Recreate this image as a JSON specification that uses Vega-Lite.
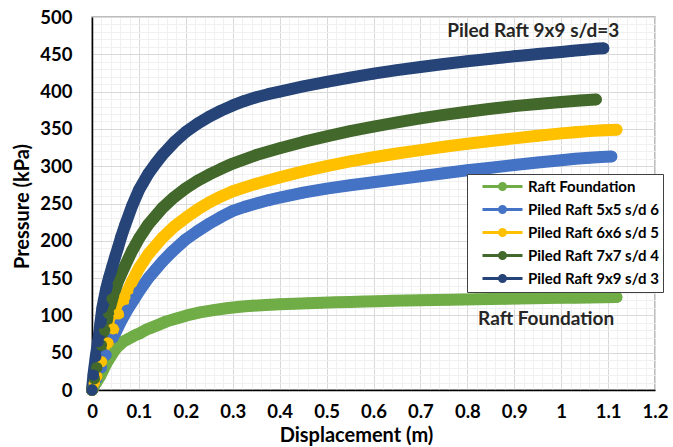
{
  "$schema": "https://vega.github.io/schema/vega-lite/v6.json",
  "width": 563,
  "height": 373,
  "autosize": {"type": "none"},
  "padding": {"left": 92, "top": 17, "right": 18, "bottom": 57},
  "background": "white",
  "config": {"font": "Lato", "view": {"stroke": "#a6a6a6", "strokeWidth": 1.5}},
  "resolve": {"axis": {"x": "independent", "y": "independent"}},
  "datasets": {"curves": [
    {"s": "Raft Foundation", "d": 0, "p": 0},
    {"s": "Raft Foundation", "d": 0.005, "p": 6},
    {"s": "Raft Foundation", "d": 0.01, "p": 11},
    {"s": "Raft Foundation", "d": 0.017, "p": 18},
    {"s": "Raft Foundation", "d": 0.024, "p": 27},
    {"s": "Raft Foundation", "d": 0.031, "p": 36},
    {"s": "Raft Foundation", "d": 0.04, "p": 45},
    {"s": "Raft Foundation", "d": 0.049, "p": 54},
    {"s": "Raft Foundation", "d": 0.058, "p": 60},
    {"s": "Raft Foundation", "d": 0.067, "p": 65},
    {"s": "Raft Foundation", "d": 0.076, "p": 68},
    {"s": "Raft Foundation", "d": 0.085, "p": 71},
    {"s": "Raft Foundation", "d": 0.094, "p": 74},
    {"s": "Raft Foundation", "d": 0.102, "p": 76},
    {"s": "Raft Foundation", "d": 0.113, "p": 80},
    {"s": "Raft Foundation", "d": 0.124, "p": 83},
    {"s": "Raft Foundation", "d": 0.14, "p": 87},
    {"s": "Raft Foundation", "d": 0.159, "p": 92},
    {"s": "Raft Foundation", "d": 0.18, "p": 96},
    {"s": "Raft Foundation", "d": 0.202, "p": 100},
    {"s": "Raft Foundation", "d": 0.23, "p": 104},
    {"s": "Raft Foundation", "d": 0.259, "p": 107},
    {"s": "Raft Foundation", "d": 0.287, "p": 109.5},
    {"s": "Raft Foundation", "d": 0.315, "p": 111.5},
    {"s": "Raft Foundation", "d": 0.34, "p": 112.8},
    {"s": "Raft Foundation", "d": 0.37, "p": 114},
    {"s": "Raft Foundation", "d": 0.4, "p": 115},
    {"s": "Raft Foundation", "d": 0.43, "p": 115.7},
    {"s": "Raft Foundation", "d": 0.46, "p": 116.4},
    {"s": "Raft Foundation", "d": 0.49, "p": 117},
    {"s": "Raft Foundation", "d": 0.52, "p": 117.5},
    {"s": "Raft Foundation", "d": 0.55, "p": 118},
    {"s": "Raft Foundation", "d": 0.58, "p": 118.5},
    {"s": "Raft Foundation", "d": 0.61, "p": 119},
    {"s": "Raft Foundation", "d": 0.64, "p": 119.5},
    {"s": "Raft Foundation", "d": 0.67, "p": 120},
    {"s": "Raft Foundation", "d": 0.7, "p": 120.3},
    {"s": "Raft Foundation", "d": 0.73, "p": 120.6},
    {"s": "Raft Foundation", "d": 0.76, "p": 121},
    {"s": "Raft Foundation", "d": 0.79, "p": 121.3},
    {"s": "Raft Foundation", "d": 0.82, "p": 121.7},
    {"s": "Raft Foundation", "d": 0.85, "p": 122},
    {"s": "Raft Foundation", "d": 0.88, "p": 122.3},
    {"s": "Raft Foundation", "d": 0.91, "p": 122.6},
    {"s": "Raft Foundation", "d": 0.94, "p": 123},
    {"s": "Raft Foundation", "d": 0.97, "p": 123.2},
    {"s": "Raft Foundation", "d": 1.0, "p": 123.5},
    {"s": "Raft Foundation", "d": 1.03, "p": 123.8},
    {"s": "Raft Foundation", "d": 1.06, "p": 124},
    {"s": "Raft Foundation", "d": 1.09, "p": 124.3},
    {"s": "Raft Foundation", "d": 1.118, "p": 124.5},

    {"s": "Piled Raft 5x5 s/d 6", "d": 0, "p": 0},
    {"s": "Piled Raft 5x5 s/d 6", "d": 0.005, "p": 8},
    {"s": "Piled Raft 5x5 s/d 6", "d": 0.01, "p": 15},
    {"s": "Piled Raft 5x5 s/d 6", "d": 0.02, "p": 30},
    {"s": "Piled Raft 5x5 s/d 6", "d": 0.03, "p": 47},
    {"s": "Piled Raft 5x5 s/d 6", "d": 0.045, "p": 70},
    {"s": "Piled Raft 5x5 s/d 6", "d": 0.06, "p": 90},
    {"s": "Piled Raft 5x5 s/d 6", "d": 0.075, "p": 107},
    {"s": "Piled Raft 5x5 s/d 6", "d": 0.09, "p": 122},
    {"s": "Piled Raft 5x5 s/d 6", "d": 0.1, "p": 132},
    {"s": "Piled Raft 5x5 s/d 6", "d": 0.12, "p": 150},
    {"s": "Piled Raft 5x5 s/d 6", "d": 0.135, "p": 161},
    {"s": "Piled Raft 5x5 s/d 6", "d": 0.15, "p": 172},
    {"s": "Piled Raft 5x5 s/d 6", "d": 0.17, "p": 185},
    {"s": "Piled Raft 5x5 s/d 6", "d": 0.2, "p": 202},
    {"s": "Piled Raft 5x5 s/d 6", "d": 0.225, "p": 213},
    {"s": "Piled Raft 5x5 s/d 6", "d": 0.25, "p": 223},
    {"s": "Piled Raft 5x5 s/d 6", "d": 0.275, "p": 232},
    {"s": "Piled Raft 5x5 s/d 6", "d": 0.3, "p": 240},
    {"s": "Piled Raft 5x5 s/d 6", "d": 0.325, "p": 245.5},
    {"s": "Piled Raft 5x5 s/d 6", "d": 0.35, "p": 250},
    {"s": "Piled Raft 5x5 s/d 6", "d": 0.375, "p": 254.3},
    {"s": "Piled Raft 5x5 s/d 6", "d": 0.4, "p": 258},
    {"s": "Piled Raft 5x5 s/d 6", "d": 0.45, "p": 264.5},
    {"s": "Piled Raft 5x5 s/d 6", "d": 0.5, "p": 270},
    {"s": "Piled Raft 5x5 s/d 6", "d": 0.55, "p": 274.5},
    {"s": "Piled Raft 5x5 s/d 6", "d": 0.6, "p": 278.5},
    {"s": "Piled Raft 5x5 s/d 6", "d": 0.65, "p": 282.5},
    {"s": "Piled Raft 5x5 s/d 6", "d": 0.7, "p": 286.5},
    {"s": "Piled Raft 5x5 s/d 6", "d": 0.75, "p": 290.5},
    {"s": "Piled Raft 5x5 s/d 6", "d": 0.8, "p": 294.5},
    {"s": "Piled Raft 5x5 s/d 6", "d": 0.85, "p": 298},
    {"s": "Piled Raft 5x5 s/d 6", "d": 0.9, "p": 301.5},
    {"s": "Piled Raft 5x5 s/d 6", "d": 0.95, "p": 305},
    {"s": "Piled Raft 5x5 s/d 6", "d": 1.0, "p": 308},
    {"s": "Piled Raft 5x5 s/d 6", "d": 1.03, "p": 310},
    {"s": "Piled Raft 5x5 s/d 6", "d": 1.06, "p": 311.3},
    {"s": "Piled Raft 5x5 s/d 6", "d": 1.085, "p": 312.3},
    {"s": "Piled Raft 5x5 s/d 6", "d": 1.107, "p": 313},

    {"s": "Piled Raft 6x6 s/d 5", "d": 0, "p": 0},
    {"s": "Piled Raft 6x6 s/d 5", "d": 0.005, "p": 9},
    {"s": "Piled Raft 6x6 s/d 5", "d": 0.01, "p": 18},
    {"s": "Piled Raft 6x6 s/d 5", "d": 0.02, "p": 38},
    {"s": "Piled Raft 6x6 s/d 5", "d": 0.034, "p": 63},
    {"s": "Piled Raft 6x6 s/d 5", "d": 0.045, "p": 82},
    {"s": "Piled Raft 6x6 s/d 5", "d": 0.056, "p": 102},
    {"s": "Piled Raft 6x6 s/d 5", "d": 0.07, "p": 125},
    {"s": "Piled Raft 6x6 s/d 5", "d": 0.085, "p": 145},
    {"s": "Piled Raft 6x6 s/d 5", "d": 0.1, "p": 163},
    {"s": "Piled Raft 6x6 s/d 5", "d": 0.12, "p": 182},
    {"s": "Piled Raft 6x6 s/d 5", "d": 0.15, "p": 204},
    {"s": "Piled Raft 6x6 s/d 5", "d": 0.175, "p": 219},
    {"s": "Piled Raft 6x6 s/d 5", "d": 0.2, "p": 231},
    {"s": "Piled Raft 6x6 s/d 5", "d": 0.225, "p": 242},
    {"s": "Piled Raft 6x6 s/d 5", "d": 0.25, "p": 251.5},
    {"s": "Piled Raft 6x6 s/d 5", "d": 0.275, "p": 259.5},
    {"s": "Piled Raft 6x6 s/d 5", "d": 0.3, "p": 266.5},
    {"s": "Piled Raft 6x6 s/d 5", "d": 0.35, "p": 276.5},
    {"s": "Piled Raft 6x6 s/d 5", "d": 0.4, "p": 285},
    {"s": "Piled Raft 6x6 s/d 5", "d": 0.45, "p": 293},
    {"s": "Piled Raft 6x6 s/d 5", "d": 0.5, "p": 300},
    {"s": "Piled Raft 6x6 s/d 5", "d": 0.55, "p": 306.5},
    {"s": "Piled Raft 6x6 s/d 5", "d": 0.6, "p": 312},
    {"s": "Piled Raft 6x6 s/d 5", "d": 0.65, "p": 317},
    {"s": "Piled Raft 6x6 s/d 5", "d": 0.7, "p": 321.5},
    {"s": "Piled Raft 6x6 s/d 5", "d": 0.75, "p": 326},
    {"s": "Piled Raft 6x6 s/d 5", "d": 0.8, "p": 330},
    {"s": "Piled Raft 6x6 s/d 5", "d": 0.85, "p": 333.8},
    {"s": "Piled Raft 6x6 s/d 5", "d": 0.9, "p": 337.3},
    {"s": "Piled Raft 6x6 s/d 5", "d": 0.95, "p": 340.8},
    {"s": "Piled Raft 6x6 s/d 5", "d": 1.0, "p": 344},
    {"s": "Piled Raft 6x6 s/d 5", "d": 1.03, "p": 345.6},
    {"s": "Piled Raft 6x6 s/d 5", "d": 1.06, "p": 347},
    {"s": "Piled Raft 6x6 s/d 5", "d": 1.09, "p": 348.1},
    {"s": "Piled Raft 6x6 s/d 5", "d": 1.118, "p": 349},

    {"s": "Piled Raft 7x7 s/d 4", "d": 0, "p": 0},
    {"s": "Piled Raft 7x7 s/d 4", "d": 0.005, "p": 15},
    {"s": "Piled Raft 7x7 s/d 4", "d": 0.01, "p": 30},
    {"s": "Piled Raft 7x7 s/d 4", "d": 0.02, "p": 60},
    {"s": "Piled Raft 7x7 s/d 4", "d": 0.027, "p": 80},
    {"s": "Piled Raft 7x7 s/d 4", "d": 0.035, "p": 103},
    {"s": "Piled Raft 7x7 s/d 4", "d": 0.043, "p": 122},
    {"s": "Piled Raft 7x7 s/d 4", "d": 0.055, "p": 145},
    {"s": "Piled Raft 7x7 s/d 4", "d": 0.07, "p": 166},
    {"s": "Piled Raft 7x7 s/d 4", "d": 0.085, "p": 186},
    {"s": "Piled Raft 7x7 s/d 4", "d": 0.1, "p": 203},
    {"s": "Piled Raft 7x7 s/d 4", "d": 0.12, "p": 222},
    {"s": "Piled Raft 7x7 s/d 4", "d": 0.15, "p": 244},
    {"s": "Piled Raft 7x7 s/d 4", "d": 0.175, "p": 258.5},
    {"s": "Piled Raft 7x7 s/d 4", "d": 0.2, "p": 270.5},
    {"s": "Piled Raft 7x7 s/d 4", "d": 0.225, "p": 280.5},
    {"s": "Piled Raft 7x7 s/d 4", "d": 0.25, "p": 289},
    {"s": "Piled Raft 7x7 s/d 4", "d": 0.275, "p": 296.5},
    {"s": "Piled Raft 7x7 s/d 4", "d": 0.3, "p": 303.5},
    {"s": "Piled Raft 7x7 s/d 4", "d": 0.35, "p": 315},
    {"s": "Piled Raft 7x7 s/d 4", "d": 0.4, "p": 324},
    {"s": "Piled Raft 7x7 s/d 4", "d": 0.45, "p": 332.5},
    {"s": "Piled Raft 7x7 s/d 4", "d": 0.5, "p": 340},
    {"s": "Piled Raft 7x7 s/d 4", "d": 0.55, "p": 347},
    {"s": "Piled Raft 7x7 s/d 4", "d": 0.6, "p": 353},
    {"s": "Piled Raft 7x7 s/d 4", "d": 0.65, "p": 358.7},
    {"s": "Piled Raft 7x7 s/d 4", "d": 0.7, "p": 364},
    {"s": "Piled Raft 7x7 s/d 4", "d": 0.75, "p": 368.8},
    {"s": "Piled Raft 7x7 s/d 4", "d": 0.8, "p": 373},
    {"s": "Piled Raft 7x7 s/d 4", "d": 0.85, "p": 377},
    {"s": "Piled Raft 7x7 s/d 4", "d": 0.9, "p": 380.5},
    {"s": "Piled Raft 7x7 s/d 4", "d": 0.95, "p": 383.5},
    {"s": "Piled Raft 7x7 s/d 4", "d": 1.0, "p": 386},
    {"s": "Piled Raft 7x7 s/d 4", "d": 1.04, "p": 388},
    {"s": "Piled Raft 7x7 s/d 4", "d": 1.074, "p": 389.5},

    {"s": "Piled Raft 9x9 s/d 3", "d": 0, "p": 0},
    {"s": "Piled Raft 9x9 s/d 3", "d": 0.003, "p": 20},
    {"s": "Piled Raft 9x9 s/d 3", "d": 0.008, "p": 45},
    {"s": "Piled Raft 9x9 s/d 3", "d": 0.013, "p": 65},
    {"s": "Piled Raft 9x9 s/d 3", "d": 0.018, "p": 90},
    {"s": "Piled Raft 9x9 s/d 3", "d": 0.022, "p": 110},
    {"s": "Piled Raft 9x9 s/d 3", "d": 0.03, "p": 135},
    {"s": "Piled Raft 9x9 s/d 3", "d": 0.036, "p": 150},
    {"s": "Piled Raft 9x9 s/d 3", "d": 0.043, "p": 165},
    {"s": "Piled Raft 9x9 s/d 3", "d": 0.05, "p": 180},
    {"s": "Piled Raft 9x9 s/d 3", "d": 0.055, "p": 190},
    {"s": "Piled Raft 9x9 s/d 3", "d": 0.062, "p": 205},
    {"s": "Piled Raft 9x9 s/d 3", "d": 0.07, "p": 220},
    {"s": "Piled Raft 9x9 s/d 3", "d": 0.085, "p": 246},
    {"s": "Piled Raft 9x9 s/d 3", "d": 0.1, "p": 268},
    {"s": "Piled Raft 9x9 s/d 3", "d": 0.12, "p": 290},
    {"s": "Piled Raft 9x9 s/d 3", "d": 0.135, "p": 303},
    {"s": "Piled Raft 9x9 s/d 3", "d": 0.15, "p": 315},
    {"s": "Piled Raft 9x9 s/d 3", "d": 0.175, "p": 332},
    {"s": "Piled Raft 9x9 s/d 3", "d": 0.2, "p": 346},
    {"s": "Piled Raft 9x9 s/d 3", "d": 0.225, "p": 357},
    {"s": "Piled Raft 9x9 s/d 3", "d": 0.25, "p": 366.5},
    {"s": "Piled Raft 9x9 s/d 3", "d": 0.275, "p": 374.5},
    {"s": "Piled Raft 9x9 s/d 3", "d": 0.3, "p": 381.5},
    {"s": "Piled Raft 9x9 s/d 3", "d": 0.325, "p": 387.5},
    {"s": "Piled Raft 9x9 s/d 3", "d": 0.35, "p": 392.5},
    {"s": "Piled Raft 9x9 s/d 3", "d": 0.375, "p": 396.5},
    {"s": "Piled Raft 9x9 s/d 3", "d": 0.4, "p": 400},
    {"s": "Piled Raft 9x9 s/d 3", "d": 0.45, "p": 407},
    {"s": "Piled Raft 9x9 s/d 3", "d": 0.5, "p": 413},
    {"s": "Piled Raft 9x9 s/d 3", "d": 0.55, "p": 418.8},
    {"s": "Piled Raft 9x9 s/d 3", "d": 0.6, "p": 424},
    {"s": "Piled Raft 9x9 s/d 3", "d": 0.65, "p": 428.8},
    {"s": "Piled Raft 9x9 s/d 3", "d": 0.7, "p": 433},
    {"s": "Piled Raft 9x9 s/d 3", "d": 0.75, "p": 437},
    {"s": "Piled Raft 9x9 s/d 3", "d": 0.8, "p": 440.7},
    {"s": "Piled Raft 9x9 s/d 3", "d": 0.85, "p": 444},
    {"s": "Piled Raft 9x9 s/d 3", "d": 0.875, "p": 445.7},
    {"s": "Piled Raft 9x9 s/d 3", "d": 0.9, "p": 447.3},
    {"s": "Piled Raft 9x9 s/d 3", "d": 0.925, "p": 448.8},
    {"s": "Piled Raft 9x9 s/d 3", "d": 0.95, "p": 450.3},
    {"s": "Piled Raft 9x9 s/d 3", "d": 0.975, "p": 451.8},
    {"s": "Piled Raft 9x9 s/d 3", "d": 1.0, "p": 453.2},
    {"s": "Piled Raft 9x9 s/d 3", "d": 1.025, "p": 454.7},
    {"s": "Piled Raft 9x9 s/d 3", "d": 1.05, "p": 456.2},
    {"s": "Piled Raft 9x9 s/d 3", "d": 1.07, "p": 457.3},
    {"s": "Piled Raft 9x9 s/d 3", "d": 1.09, "p": 458}
  ],
  "notes": [
    {"label": "Piled Raft 9x9 s/d=3", "nx": 0.757, "ny": 481},
    {"label": "Raft Foundation", "nx": 0.823, "ny": 95}
  ]},
  "layer": [
    {
      "data": {"name": "curves"},
      "encoding": {
        "x": {
          "field": "d", "type": "quantitative",
          "scale": {"domain": [0, 1.2], "nice": false, "zero": false},
          "title": "Displacement (m)",
          "axis": {
            "values": [0,0.02,0.04,0.06,0.08,0.1,0.12,0.14,0.16,0.18,0.2,0.22,0.24,0.26,0.28,0.3,0.32,0.34,0.36,0.38,0.4,0.42,0.44,0.46,0.48,0.5,0.52,0.54,0.56,0.58,0.6,0.62,0.64,0.66,0.68,0.7,0.72,0.74,0.76,0.78,0.8,0.82,0.84,0.86,0.88,0.9,0.92,0.94,0.96,0.98,1,1.02,1.04,1.06,1.08,1.1,1.12,1.14,1.16,1.18,1.2],
            "labelExpr": "abs(datum.value*10 - round(datum.value*10)) < 0.001 ? format(datum.value, '.1~f') : ''",
            "grid": true,
            "gridColor": {"condition": {"test": "abs(datum.value*10 - round(datum.value*10)) < 0.001", "value": "#d9d9d9"}, "value": "#f0f0f0"},
            "gridWidth": 1,
            "ticks": false, "tickSize": 0,
            "domainColor": "#000000", "domainWidth": 1.5,
            "labelFont": "Lato", "labelFontSize": 18.5, "labelFontWeight": "bold", "labelColor": "#000000",
            "labelPadding": 12, "labelOverlap": false, "labelBound": false, "labelFlush": false,
            "titleFont": "Lato", "titleFontSize": 20, "titleFontWeight": "bold", "titleColor": "#000000",
            "titleX": 264, "titleY": 45, "titleBaseline": "middle", "titleAnchor": "middle"
          }
        },
        "y": {
          "field": "p", "type": "quantitative",
          "scale": {"domain": [0, 500], "nice": false},
          "title": "Pressure (kPa)",
          "axis": {
            "values": [0,10,20,30,40,50,60,70,80,90,100,110,120,130,140,150,160,170,180,190,200,210,220,230,240,250,260,270,280,290,300,310,320,330,340,350,360,370,380,390,400,410,420,430,440,450,460,470,480,490,500],
            "labelExpr": "datum.value % 50 === 0 ? datum.label : ''",
            "grid": true,
            "gridColor": {"condition": {"test": "datum.value % 50 === 0", "value": "#d9d9d9"}, "value": "#f0f0f0"},
            "gridWidth": 1,
            "ticks": false, "tickSize": 0,
            "domainColor": "#000000", "domainWidth": 1.5,
            "labelFont": "Lato", "labelFontSize": 18.5, "labelFontWeight": "bold", "labelColor": "#000000",
            "labelPadding": 20, "labelOverlap": false, "labelBound": false, "labelFlush": false,
            "titleFont": "Lato", "titleFontSize": 20, "titleFontWeight": "bold", "titleColor": "#000000",
            "titleX": -70, "titleY": 189, "titleBaseline": "middle", "titleAlign": "center", "titleAngle": -90
          }
        },
        "color": {
          "field": "s", "type": "nominal",
          "scale": {
            "domain": ["Raft Foundation", "Piled Raft 5x5 s/d 6", "Piled Raft 6x6 s/d 5", "Piled Raft 7x7 s/d 4", "Piled Raft 9x9 s/d 3"],
            "range": ["#70ad47", "#4472c4", "#ffc000", "#43682b", "#264478"]
          },
          "legend": {
            "title": null,
            "orient": "none",
            "legendX": 375,
            "legendY": 157,
            "fillColor": "#ffffff",
            "strokeColor": "#404040",
            "padding": 4,
            "symbolType": "M0.4286,0H6.143M3.5,0A0.2143,0.2143,0,1,1,3.0714,0A0.2143,0.2143,0,1,1,3.5,0M3.7143,0A0.4286,0.4286,0,1,1,2.8571,0A0.4286,0.4286,0,1,1,3.7143,0",
            "symbolSize": 196,
            "symbolStrokeWidth": 3,
            "symbolOpacity": 1,
            "labelFont": "Lato", "labelFontSize": 15, "labelFontWeight": "bold", "labelColor": "#000000",
            "labelOffset": 40,
            "rowPadding": 4,
            "labelLimit": 300
          }
        }
      },
      "layer": [
        {"mark": {"type": "line", "strokeWidth": 12, "strokeCap": "round", "strokeJoin": "round"}},
        {"mark": {"type": "point", "filled": true, "size": 130, "opacity": 1}}
      ]
    },
    {
      "data": {"name": "notes"},
      "mark": {"type": "text", "align": "left", "baseline": "middle", "font": "Lato", "fontSize": 19, "fontWeight": "bold", "color": "#262626"},
      "encoding": {
        "x": {"field": "nx", "type": "quantitative", "axis": null},
        "y": {"field": "ny", "type": "quantitative", "axis": null},
        "text": {"field": "label", "type": "nominal"}
      }
    }
  ]
}
